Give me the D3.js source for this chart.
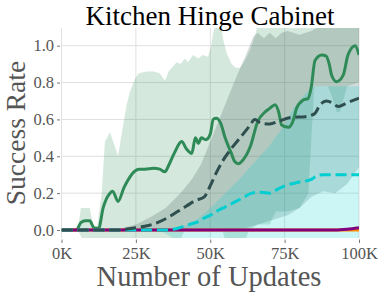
<!DOCTYPE html>
<html><head><meta charset="utf-8">
<script src="https://cdn.jsdelivr.net/npm/d3@7"></script>
<style>body{margin:0;background:#fff}svg{display:block}text{font-family:"Liberation Serif","Times New Roman",serif}</style>
</head><body>
<svg id="c" width="379" height="294"></svg>
<script>
// ---- data (x in thousands of updates) ----
const xTicks = [0, 25, 50, 75, 100];
const xTickLabels = ["0K", "25K", "50K", "75K", "100K"];
const yTicks = [0, 0.2, 0.4, 0.6, 0.8, 1.0];
const yTickLabels = ["0.0", "0.2", "0.4", "0.6", "0.8", "1.0"];

// green (solid) series
const greenX    = [0,5,6.5,8,9.5,11,12.5,14,16.3,17.2,19,21,22.7,24.7,26,28,31,33,34.8,36,38,40.4,42,43.8,45,46,47,48.5,50,51,52,53.5,55,57,58.3,59.4,61,63.4,66,68.4,70,71.8,73,74,76.2,78,79,81.2,82.9,84,85.2,87.5,88.9,90,90.8,92.5,94.7,96.3,98.7,100];
const greenMean = [0,0,0.04,0.05,0.05,0.01,0.01,0.12,0.2,0.21,0.155,0.23,0.28,0.32,0.33,0.33,0.335,0.33,0.316,0.35,0.42,0.48,0.44,0.416,0.5,0.47,0.5,0.49,0.52,0.6,0.606,0.58,0.5,0.42,0.37,0.36,0.38,0.45,0.59,0.64,0.66,0.68,0.64,0.57,0.557,0.6,0.66,0.705,0.714,0.78,0.92,0.95,0.945,0.9,0.84,0.805,0.84,0.95,1.0,0.95];
const greenHiX  = [0,5.5,6.5,9.5,10.6,12,13.5,14.6,16.3,18,19,20.5,21.9,23,24.7,26,28.6,31,33,34.8,36,38.7,40,41.5,42.5,44.2,46,47.5,49.3,50.3,51,52,53.5,54.4,55.5,57.2,58.5,60,62,63.4,65,66,100];
const greenHi   = [0,0,0.12,0.12,0.03,0.02,0.2,0.48,0.53,0.45,0.4,0.55,0.68,0.75,0.82,0.85,0.86,0.86,0.85,0.81,0.86,0.91,0.9,0.93,0.91,0.95,0.93,0.95,0.94,1.0,1.07,1.12,1.12,1.03,0.96,0.9,0.88,0.88,0.93,0.98,1.05,1.12,1.12];
const greenLoX  = [0,5.5,7,40,41.5,54,55,62,63,66,70,72,76,80,83,84,85,89.5,91,92.5,93.5,95,96,100];
const greenLo   = [0,0,-0.05,-0.05,0,0,-0.05,-0.05,0,0.03,0.03,0.1,0.1,0.12,0.2,0.5,0.78,0.78,0.72,0.64,0.64,0.72,0.78,0.8];

// dark slate (dashed) series
const darkX     = [0,20,22,25,28,33,36,39,42,45,48,50,52,54,57,60,63,65,67,70,73,77,82,85,87,89,91,93,96,100];
const darkMean  = [0,0,0.005,0.012,0.02,0.045,0.07,0.1,0.13,0.16,0.18,0.24,0.31,0.37,0.44,0.5,0.56,0.6,0.58,0.575,0.59,0.61,0.615,0.63,0.68,0.7,0.69,0.67,0.69,0.715];
const darkHiX   = [0,15,20,25,30,35,40,44,47,50,53,56,59,62,64.5,66,68,70,72,74,76,80,84,86,100];
const darkHi    = [0,0,0.01,0.03,0.07,0.12,0.2,0.28,0.36,0.48,0.6,0.72,0.84,0.95,1.05,1.07,1.04,1.07,1.04,1.07,1.08,1.06,1.08,1.1,1.1];
const darkLoX   = [0,60,64,70,76,80,84,88,92,96,100];
const darkLo    = [0,0,0.02,0.05,0.08,0.12,0.18,0.21,0.2,0.25,0.34];

// turquoise (dashed) series
const cyanX     = [0,35,38,41,44,46,48,50,52,55,58,61,64,67,70,73,76,80,84,86,88,100];
const cyanMean  = [0,0,0.005,0.02,0.035,0.045,0.065,0.08,0.1,0.125,0.15,0.175,0.2,0.205,0.2,0.225,0.245,0.26,0.275,0.295,0.3,0.3];
const cyanHiX   = [0,33,37,40,45,50,55,60,65,70,74,78,82,85,100];
const cyanHi    = [0,0,0.005,0.01,0.05,0.12,0.2,0.28,0.37,0.46,0.55,0.66,0.74,0.78,0.78];
const cyanLoX   = [0,33,38,100];
const cyanLo    = [0,0,-0.05,-0.05];

// purple and orange series
const purpleX    = [0,92,96,100];
const purpleMean = [0,0,0.004,0.012];
const orangeX    = [0,100];
const orangeMean = [0,0];

// ---- drawing ----
const svg = d3.select("#c");
const L = 61.5, R = 359, T = 28, B = 238;
const x = d3.scaleLinear().domain([0, 100]).range([L, R]);
const y = d3.scaleLinear().domain([-0.0434, 1.096]).range([B, T]);

svg.append("defs").append("clipPath").attr("id", "clip")
  .append("rect").attr("x", L).attr("y", T).attr("width", R - L).attr("height", B - T);

// grid
const grid = svg.append("g");
grid.selectAll(".gy").data(yTicks).enter().append("line")
  .attr("x1", L).attr("x2", R).attr("y1", d => y(d)).attr("y2", d => y(d))
  .attr("stroke", "#e0e0e0").attr("stroke-width", 1);
grid.selectAll(".gx").data(xTicks).enter().append("line")
  .attr("x1", d => x(d)).attr("x2", d => x(d)).attr("y1", T).attr("y2", B)
  .attr("stroke", "#e0e0e0").attr("stroke-width", 1);

const plot = svg.append("g").attr("clip-path", "url(#clip)");
const pts = (xs, ys) => xs.map((v, i) => [v, ys[i]]);
const lineGen = d3.line().x(d => x(d[0])).y(d => y(d[1]));
function band(hx, hy, lx, ly, color) {
  const hi = pts(hx, hy);
  const lo = pts(lx, ly).reverse();
  const p = lineGen(hi) + "L" + lineGen(lo).slice(1) + "Z";
  plot.append("path").attr("d", p).attr("fill", color).attr("fill-opacity", 0.2).attr("stroke", "none");
}
band(greenHiX, greenHi, greenLoX, greenLo, "#2e8b57");
band(darkHiX, darkHi, darkLoX, darkLo, "#2f4f4f");
band(cyanHiX, cyanHi, cyanLoX, cyanLo, "#00ced1");

const smooth = d3.line().x(d => x(d[0])).y(d => y(d[1])).curve(d3.curveMonotoneX);
function mean(xs, ys, color, dash) {
  const p = plot.append("path").attr("d", smooth(pts(xs, ys)))
    .attr("fill", "none").attr("stroke", color).attr("stroke-width", 3)
    .attr("stroke-linejoin", "round");
  if (dash) p.attr("stroke-dasharray", "11.1,4.8");
}
mean(greenX, greenMean, "#2e8b57", false);
mean(orangeX, orangeMean, "#ff8c00", false);
mean(purpleX, purpleMean, "#800080", false);
mean(cyanX, cyanMean, "#00ced1", true);
mean(darkX, darkMean, "#2f4f4f", true);

// axes
const yAxis = svg.append("g").attr("transform", `translate(${L - 1.5},0)`)
  .call(d3.axisLeft(y).tickValues(yTicks).tickFormat((d, i) => yTickLabels[i]).tickSize(3).tickPadding(3));
const xAxis = svg.append("g").attr("transform", `translate(0,${B + 1.5})`)
  .call(d3.axisBottom(x).tickValues(xTicks).tickFormat((d, i) => xTickLabels[i]).tickSize(3.5).tickPadding(4));
[yAxis, xAxis].forEach(a => {
  a.select(".domain").remove();
  a.selectAll("line").attr("stroke", "#777");
  a.selectAll("text").attr("fill", "#555").style("font-size", "16.5px")
    .style("font-family", '"Liberation Serif",serif');
});

svg.append("text").attr("x", 210).attr("y", 24.5).attr("text-anchor", "middle")
  .style("font-size", "27px").attr("fill", "#000").text("Kitchen Hinge Cabinet");
svg.append("text").attr("x", 209).attr("y", 286).attr("text-anchor", "middle")
  .style("font-size", "28.5px").attr("fill", "#555").text("Number of Updates");
svg.append("text").attr("transform", "translate(24.5,133) rotate(-90)").attr("text-anchor", "middle")
  .style("font-size", "27.5px").attr("fill", "#555").text("Success Rate");
</script>
</body></html>
